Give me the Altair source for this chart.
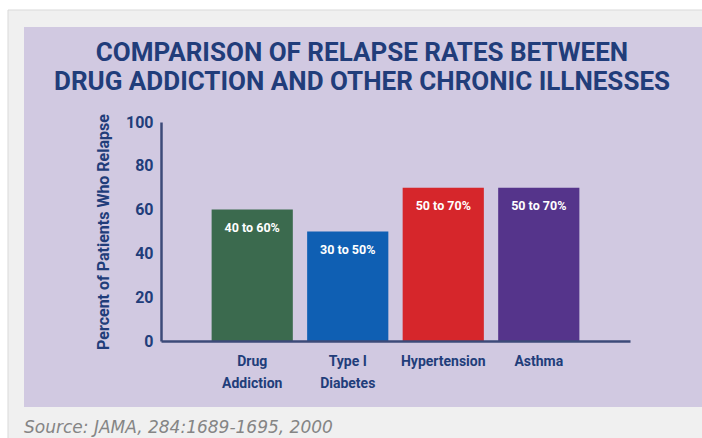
import altair as alt
import pandas as pd

categories = ["Drug Addiction", "Type I Diabetes", "Hypertension", "Asthma"]
relapse_pct = [60, 50, 70, 70]
range_labels = ["40 to 60%", "30 to 50%", "50 to 70%", "50 to 70%"]
bar_colors = ["#3b6a4e", "#0f5fb3", "#d6262b", "#55348b"]
title_lines = ["COMPARISON OF RELAPSE RATES BETWEEN", "DRUG ADDICTION AND OTHER CHRONIC ILLNESSES"]
y_title = "Percent of Patients Who Relapse"
source_text = "Source: JAMA, 284:1689-1695, 2000"

NARROW = "Roboto, sans-serif"
NAVY = "#213d7a"

df = pd.DataFrame({"category": categories, "value": relapse_pct, "label": range_labels})
one = pd.DataFrame({"k": [0]})

W, H = 469, 219
OX, OY = 161, 122

frame = alt.Chart(one).mark_rect(fill="#f0f0f0", stroke="#d9d9d9", strokeWidth=1).encode(
    x=alt.value(8 - OX), x2=alt.value(702 - OX + 2), y=alt.value(10 - OY), y2=alt.value(438 - OY + 2)
)
panel = alt.Chart(one).mark_rect(fill="#d1c9e1").encode(
    x=alt.value(24 - OX), x2=alt.value(702 - OX + 2), y=alt.value(27 - OY), y2=alt.value(407 - OY)
)

xenc = alt.X(
    "category:N",
    sort=categories,
    scale=alt.Scale(paddingInner=0.15, paddingOuter=0.53),
    axis=alt.Axis(
        title=None, labelAngle=0, ticks=False, labelPadding=13, labelBaseline="top",
        labelFont=NARROW, labelFontSize=14, labelFontWeight="bold", labelColor=NAVY,
        labelLineHeight=22, domainColor="#3c4a78", domainWidth=2.5, zindex=1,
        labelExpr="datum.label == 'Drug Addiction' ? ['Drug', 'Addiction'] : datum.label == 'Type I Diabetes' ? ['Type I', 'Diabetes'] : datum.label",
    ),
)
yenc = alt.Y(
    "value:Q",
    scale=alt.Scale(domain=[0, 100]),
    axis=alt.Axis(
        title=y_title, values=[0, 20, 40, 60, 80, 100], ticks=False, grid=False, labelPadding=8,
        labelFont=NARROW, labelFontSize=16, labelFontWeight="bold", labelColor=NAVY,
        domainColor="#3c4a78", domainWidth=2.5, zindex=1,
        titleFont=NARROW, titleFontSize=16, titleFontWeight="bold", titleColor=NAVY,
        titleX=103 - OX, titleBaseline="middle", titleAlign="center", titleAngle=-90,
    ),
)

bars = alt.Chart(df).mark_bar().encode(
    x=xenc,
    y=yenc,
    color=alt.Color("category:N", scale=alt.Scale(domain=categories, range=bar_colors), legend=None),
)
bar_text = alt.Chart(df).mark_text(
    color="white", font=NARROW, fontSize=12.5, fontWeight="bold", dy=18, baseline="middle"
).encode(x=alt.X("category:N", sort=categories), y="value:Q", text="label:N")

title_mark = alt.Chart(one).mark_text(
    font=NARROW, fontSize=26, fontWeight="bold", color=NAVY, align="center",
    baseline="alphabetic", lineHeight=29,
).encode(x=alt.value(362 - OX), y=alt.value(61 - OY), text=alt.value(title_lines))

source_mark = alt.Chart(one).mark_text(
    font="'DejaVu Sans', sans-serif", fontSize=17, fontStyle="italic", color="#858585",
    align="left", baseline="alphabetic",
).encode(x=alt.value(24 - OX), y=alt.value(433 - OY), text=alt.value(source_text))

chart = alt.layer(frame, panel, bars, bar_text, title_mark, source_mark).properties(
    width=W, height=H,
    autosize=alt.AutoSizeParams(type="none"),
    padding={"left": OX, "top": OY, "right": 702 - OX - W, "bottom": 438 - OY - H},
    background="#ffffff",
).configure_view(stroke=None)

chart.save("out.html", embed_options={"renderer": "svg", "actions": False})
